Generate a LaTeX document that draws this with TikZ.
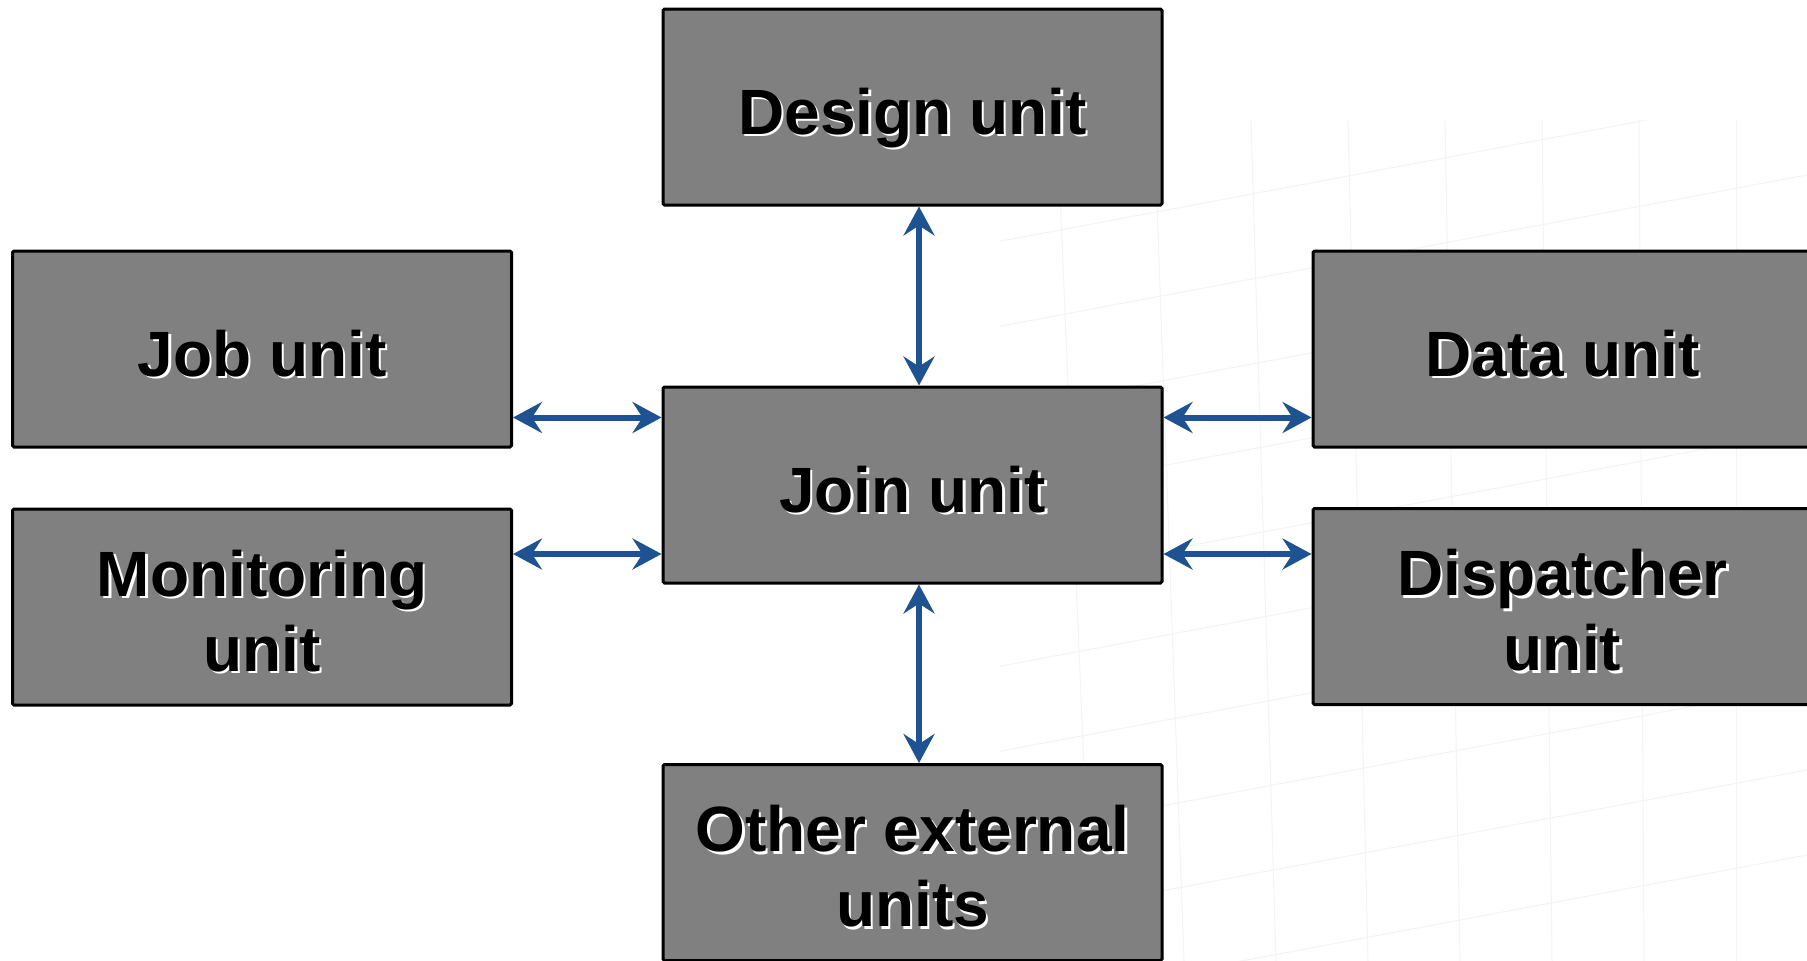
\documentclass[tikz,border=0pt]{standalone}
\usepackage{fontspec}
\setmainfont{Liberation Sans}
\usetikzlibrary{arrows.meta}
\definecolor{boxgray}{RGB}{128,128,128}
\definecolor{arrblue}{RGB}{31,82,145}
\definecolor{gridc}{RGB}{243,244,246}
\newcommand\shtxt[1]{\raisebox{-4pt}[\height][\depth]{\makebox[0pt][l]{\smash{\hspace{2.5pt}\raisebox{-2.5pt}{\textcolor{white}{#1}}}}#1}}
\tikzset{
  unitbox/.style={draw=black, line width=3pt, fill=boxgray, rounded corners=1.5pt,
    minimum width=499pt, minimum height=196pt, inner sep=0pt, align=center,
    font=\fontsize{64}{75}\selectfont\bfseries},
  oneline/.style={text height=46pt, text depth=0pt},
  biarrow/.style={draw=arrblue, line width=6pt,
    {Stealth[length=29pt,width=31pt,inset=10pt]}-{Stealth[length=29pt,width=31pt,inset=10pt]}},
  gridline/.style={draw=gridc, line width=1pt}
}
\begin{document}
\begin{tikzpicture}[x=1pt,y=-1pt]
\useasboundingbox[fill=white] (0,0) rectangle (1807,961);
% faint background grid
\begin{scope}
\clip (1000,120) rectangle (1807,961);
\foreach \i in {0,...,9} {
  \draw[gridline] (900,{260+\i*85}) -- (1807,{180+\i*85-90});
}
\foreach \i in {0,...,10} {
  \draw[gridline] ({1000+\i*92},961) -- ({960+\i*97},120);
}
\end{scope}
% boxes
\node[unitbox, oneline] (design) at (912.5,107) {\shtxt{Design unit}};
\node[unitbox, oneline] (join) at (912.5,485) {\shtxt{Join unit}};
\node[unitbox] (other) at (912.5,862.5) {\shtxt{Other external}\\\shtxt{units}};
\node[unitbox, oneline] (job) at (262,349) {\shtxt{Job unit}};
\node[unitbox] (monitor) at (262,607) {\shtxt{Monitoring}\\\shtxt{unit}};
\node[unitbox, oneline] (data) at (1562.5,349) {\shtxt{Data unit}};
\node[unitbox] (dispatch) at (1562.5,606.5) {\shtxt{Dispatcher}\\\shtxt{unit}};
% connectors
\draw[biarrow] (design.south -| 919,0) -- (join.north -| 919,0);
\draw[biarrow] (join.south -| 919,0) -- (other.north -| 919,0);
\draw[biarrow] (job.east |- 0,417.5) -- (join.west |- 0,417.5);
\draw[biarrow] (monitor.east |- 0,554) -- (join.west |- 0,554);
\draw[biarrow] (join.east |- 0,417.5) -- (data.west |- 0,417.5);
\draw[biarrow] (join.east |- 0,554) -- (dispatch.west |- 0,554);
\end{tikzpicture}
\end{document}
